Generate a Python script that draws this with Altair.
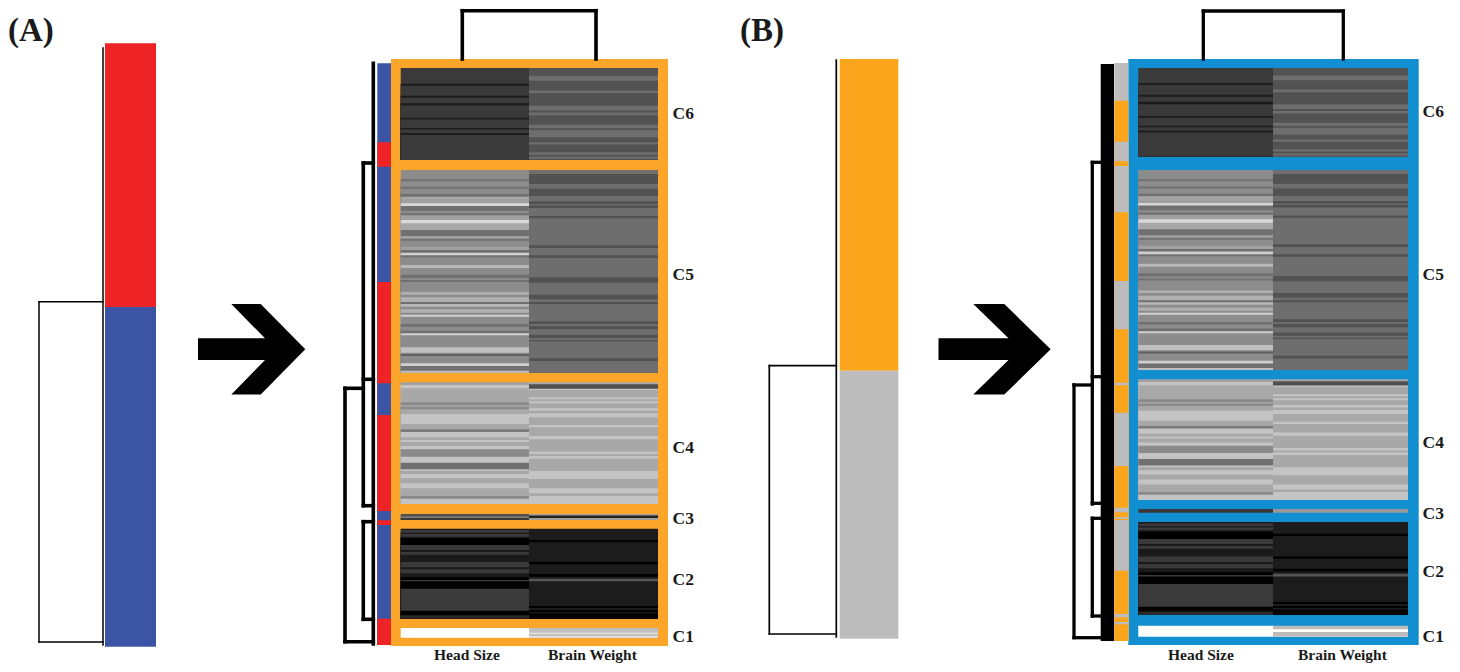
import altair as alt
import pandas as pd

# ---------- heat-map stripes: row counts and gray levels, cluster by cluster ----------
c6_head_rows = [47, 6, 30, 6, 16, 7, 37, 5, 25, 5, 10, 6, 75]
c6_head_gray = [0x3a, 0x1c, 0x3a, 0x1c, 0x3a, 0x1c, 0x3a, 0x1c, 0x3a, 0x1c, 0x3a, 0x1c, 0x3a]
c6_brain_rows = [23, 15, 29, 8, 38, 14, 6, 8, 29, 10, 5, 22, 15, 7, 23, 7, 6, 6, 4]
c6_brain_gray = [0x52, 0x6e, 0x52, 0x6e, 0x52, 0x6e, 0x52, 0x6e, 0x52, 0x6e, 0x52, 0x6e, 0x52, 0x6e, 0x52, 0x6e, 0x52, 0x6e, 0x52]

c5_head_rows = [28, 6, 16, 6, 16, 8, 6, 14, 8, 14, 8, 6, 14, 10, 20, 18, 8, 6, 18, 10, 8, 8, 6, 23, 9, 20, 10, 6, 6, 30,
                8, 8, 14, 6, 8, 8, 10, 6, 6, 22, 8, 12, 8, 6, 36, 16, 4, 6, 22, 8, 14, 6]
c5_head_gray = [0x8c, 0x70, 0x8c, 0x70, 0x8c, 0x70, 0xa8, 0xa0, 0xd8, 0x70, 0x8c, 0x70, 0xa0, 0xd8, 0xa8, 0x70, 0xa0, 0x70,
                0x8c, 0xa0, 0x70, 0xd0, 0x70, 0x8c, 0xb8, 0x8c, 0x70, 0x8c, 0x70, 0x8c, 0xb0, 0x8c, 0xb0, 0x70, 0xb8, 0x8c,
                0xb0, 0x8c, 0xd0, 0x8c, 0x70, 0x8c, 0x70, 0xd0, 0x8c, 0xc0, 0x8c, 0x60, 0x8c, 0xd0, 0x70, 0xc0]
c5_brain_rows = [12, 30, 14, 22, 16, 8, 4, 8, 24, 7, 81, 8, 22, 8, 58, 16, 36, 14, 8, 6, 52, 8, 6, 10, 16, 10, 6, 4, 51, 8, 35]
c5_brain_gray = [0x6e, 0x52, 0x6e, 0x52, 0x6e, 0x52, 0x6e, 0x52, 0x6e, 0x52, 0x6e, 0x52, 0x6e, 0x52, 0x6e, 0x52, 0x6e, 0x52,
                 0x6e, 0x52, 0x6e, 0x52, 0x6e, 0x52, 0x6e, 0x52, 0x6e, 0x52, 0x6e, 0x52, 0x6e]

c4_head_rows = [8, 10, 42, 9, 4, 8, 14, 30, 16, 8, 16, 8, 6, 12, 10, 22, 18, 20, 4, 10, 13, 15, 15, 23, 8, 16]
c4_head_gray = [0xa0, 0xc4, 0xa8, 0x8a, 0xa8, 0x8a, 0xa8, 0xc4, 0xa8, 0x7a, 0xc4, 0xa8, 0xc4, 0xa8, 0xc4, 0x8a, 0xc4, 0x70,
                0xc4, 0xa8, 0xc4, 0xa8, 0xc4, 0xa8, 0x8a, 0xc4]
c4_brain_rows = [6, 13, 4, 22, 6, 6, 6, 15, 7, 8, 12, 23, 7, 26, 10, 37, 7, 6, 8, 37, 24, 28, 15, 8, 24]
c4_brain_gray = [0xa8, 0x50, 0xc4, 0xa8, 0xc4, 0xa8, 0xc4, 0xa8, 0xc4, 0xa8, 0xc4, 0xa8, 0xc4, 0xa8, 0xc4, 0xa8, 0xc4, 0xa8,
                 0xc4, 0xa8, 0xc4, 0xa8, 0xc4, 0xa8, 0xc4]

c3a_head_rows = [7, 4, 6]
c3a_head_gray = [0x50, 0x80, 0x3a]
c3a_brain_rows = [4, 7, 6]
c3a_brain_gray = [0xa0, 0x20, 0xa0]
c3b_head_rows = [1]
c3b_head_gray = [0x38]
c3b_brain_rows = [1]
c3b_brain_gray = [0x98]

c2_head_rows = [4, 8, 4, 8, 4, 21, 15, 6, 8, 22, 16, 6, 12, 12, 8, 4, 22, 66, 14, 10]
c2_head_gray = [0x1a, 0x3a, 0x1a, 0x3a, 0x1a, 0x00, 0x3a, 0x1a, 0x3a, 0x1a, 0x3a, 0x1a, 0x3a, 0x1a, 0x00, 0x3a, 0x00, 0x3a, 0x00, 0x2a]
c2_brain_rows = [34, 7, 59, 7, 29, 8, 6, 8, 74, 6, 6, 6, 4, 16]
c2_brain_gray = [0x1c, 0x00, 0x1c, 0x00, 0x1c, 0x00, 0x1c, 0x55, 0x1c, 0x00, 0x1c, 0x00, 0x1c, 0x00]

c1_head_rows = [1]
c1_head_gray = [0xff]
c1a_brain_rows = [14, 4, 6, 5]
c1a_brain_gray = [0xc0, 0xe8, 0xc0, 0xe0]
c1b_brain_rows = [11, 8, 14]
c1b_brain_gray = [0xbb, 0xff, 0xbb]

# cluster extents on the picture's vertical axis
a_top = [68, 170, 382.3, 514, 528.7, 628]
a_bot = [160, 372.7, 504, 520, 618.7, 637.7]
b_top = [68, 170, 379.3, 509, 522, 625.7]
b_bot = [156.7, 370, 500, 512.7, 615, 636.7]
a_cols = [400.7, 529, 658]
b_cols = [1138.3, 1273, 1408]

# ---------- annotation bars ----------
a_side_edges = [63.3, 142.3, 166.7, 282, 383.3, 415, 511, 520.3, 525, 618.7, 645]
a_side_names = ["blue", "red", "blue", "red", "blue", "red", "blue", "red", "blue", "red"]
b_side_edges = [63, 100.7, 141.7, 161.3, 166, 212.3, 281, 329.3, 382.7, 385.3, 412.7, 466, 507.7, 512.3, 517, 518.7,
                520, 570.7, 614, 617.3, 622, 624.3, 641]
b_side_names = ["gray", "orange", "gray", "orange", "gray", "orange", "gray", "orange", "gray", "orange", "gray", "orange",
                "gray", "orange", "gray", "orange", "gray", "orange", "gray", "orange", "gray", "orange"]
palette = {"red": "#ee2326", "blue": "#3b54a4", "orange": "#fba51d", "gray": "#bcbcbc"}

# whole-cohort bars
big_x1 = [105, 105, 839.7, 839.7]
big_x2 = [156, 156, 898.3, 898.3]
big_y1 = [43.3, 307, 59, 370.7]
big_y2 = [307, 646.7, 370.7, 638.7]
big_names = ["red", "blue", "orange", "gray"]

# ---------- dendrogram segments ----------
seg_x1 = [103, 39, 39, 39,   836.3, 769.3, 769.3, 769.3,
          462.3, 462.3, 596,   373.3, 363.3, 363.3, 363.3, 363.3, 345, 345, 345, 363.3, 363.3, 363.3,
          1203.3, 1203.3, 1343.3,   1092.3, 1092.3, 1092.3, 1092.3, 1074, 1074, 1074, 1092.3, 1092.3, 1092.3]
seg_x2 = [103, 103, 39, 103,   836.3, 836.3, 769.3, 836.3,
          596, 462.3, 596,   373.3, 373.3, 363.3, 373.3, 373.3, 363.3, 345, 373.3, 363.3, 373.3, 373.3,
          1343.3, 1203.3, 1343.3,   1101, 1092.3, 1101, 1101, 1092.3, 1074, 1101, 1092.3, 1101, 1101]
seg_y1 = [48, 301.7, 301.7, 642,   60, 365.7, 365.7, 634,
          10.7, 10.7, 10.7,   63.3, 163, 163, 379.3, 505.7, 388.3, 388.3, 641.7, 521.7, 521.7, 619.3,
          11, 11, 11,   162.3, 162.3, 376.7, 503.3, 385, 385, 637.7, 518.3, 518.3, 616]
seg_y2 = [645, 301.7, 642, 642,   637, 365.7, 634, 634,
          10.7, 59, 59,   644, 163, 505.7, 379.3, 505.7, 388.3, 641.7, 641.7, 619.3, 521.7, 619.3,
          11, 59, 59,   162.3, 504, 376.7, 503.3, 385, 637.7, 637.7, 616, 518.3, 616]
seg_w = [1.5] * 4 + [1.7] * 4 + [3.6] * 14 + [3.3] * 13

# ---------- labels ----------
lab_text = ["(A)", "(B)",
            "C6", "C5", "C4", "C3", "C2", "C1", "C6", "C5", "C4", "C3", "C2", "C1",
            "Head Size", "Brain Weight", "Head Size", "Brain Weight"]
lab_x = [8, 740,
         672.5, 672.5, 672.5, 672.5, 672.5, 672.5, 1422.5, 1422.5, 1422.5, 1422.5, 1422.5, 1422.5,
         434, 548, 1168, 1298]
lab_y = [41, 41,
         119, 280, 453, 524, 585, 641.7, 117, 280, 448, 519, 577, 641.7,
         660, 660, 660, 660]
lab_size = [33, 33] + [17.5] * 12 + [15.5] * 4

# ---------- arrows ----------
arrow_a_px = [198, 265, 231.3, 260.7, 305.3, 260.7, 231.3, 265, 198]
arrow_b_px = [938.5, 1008.5, 973.3, 1004.3, 1050.7, 1004.3, 973.3, 1008.5, 938.5]
arrow_py = [338.3, 338.3, 304, 304, 349.3, 394.5, 394.5, 360, 360]
arrow_cx = [251.65, 994.6]
arrow_cy = [349.3, 349.3]
arrow_span = [107.3, 112.2]


def arrow_path(px, cx, span):
    r = span / 2
    pts = [f"{(x - cx) / r:.4f},{(y - 349.3) / r:.4f}" for x, y in zip(px, arrow_py)]
    return "M" + " L".join(pts) + " Z"


def gray_hex(g):
    return f"#{g:02x}{g:02x}{g:02x}"


rects = []


def add_rect(x1, x2, y1, y2, color):
    rects.append({"x1": x1, "x2": x2, "y1": y1, "y2": y2, "c": color})


def add_stripes(x1, x2, top, bot, rows, grays):
    # painted top to bottom, every stripe reaching the cluster's bottom so no seams show
    total = sum(rows)
    pos = 0
    for n, g in zip(rows, grays):
        add_rect(x1, x2, top + (bot - top) * pos / total, bot, gray_hex(g))
        pos += n


def add_side(x1, x2, edges, names):
    for i, name in enumerate(names):
        add_rect(x1, x2, edges[i], edges[-1], palette[name])


for a, b, c, d, n in zip(big_x1, big_x2, big_y1, big_y2, big_names):
    add_rect(a, b, c, d, palette[n])

add_rect(391, 668, 59, 646, "#fba62a")
add_rect(1128.3, 1418.7, 59, 645, "#128fd0")
add_rect(1100.7, 1114, 64, 641, "#000000")
add_side(377.3, 391, a_side_edges, a_side_names)
add_side(1114.3, 1128.3, b_side_edges, b_side_names)

head_a = [(c6_head_rows, c6_head_gray), (c5_head_rows, c5_head_gray), (c4_head_rows, c4_head_gray),
          (c3a_head_rows, c3a_head_gray), (c2_head_rows, c2_head_gray), (c1_head_rows, c1_head_gray)]
brain_a = [(c6_brain_rows, c6_brain_gray), (c5_brain_rows, c5_brain_gray), (c4_brain_rows, c4_brain_gray),
           (c3a_brain_rows, c3a_brain_gray), (c2_brain_rows, c2_brain_gray), (c1a_brain_rows, c1a_brain_gray)]
head_b = head_a[:3] + [(c3b_head_rows, c3b_head_gray)] + head_a[4:]
brain_b = brain_a[:3] + [(c3b_brain_rows, c3b_brain_gray)] + [brain_a[4], (c1b_brain_rows, c1b_brain_gray)]

for i in range(6):
    add_stripes(a_cols[0], a_cols[1], a_top[i], a_bot[i], *head_a[i])
    add_stripes(a_cols[1], a_cols[2], a_top[i], a_bot[i], *brain_a[i])
    add_stripes(b_cols[0], b_cols[1], b_top[i], b_bot[i], *head_b[i])
    add_stripes(b_cols[1], b_cols[2], b_top[i], b_bot[i], *brain_b[i])

rect_df = pd.DataFrame(rects)
rect_df["o"] = range(len(rect_df))
seg_df = pd.DataFrame({"x1": seg_x1, "x2": seg_x2, "y1": seg_y1, "y2": seg_y2, "w": seg_w})
lab_df = pd.DataFrame({"t": lab_text, "x": lab_x, "y": lab_y, "s": lab_size})

W, H = 1444, 656
xs = alt.Scale(domain=[8, 8 + W], range=[0, W])
ys = alt.Scale(domain=[8, 8 + H], range=[0, H])
X = alt.X("x1:Q", scale=xs, axis=None)
Y = alt.Y("y1:Q", scale=ys, axis=None)

rect_layer = alt.Chart(rect_df).mark_rect(strokeWidth=0).encode(
    x=X, x2="x2:Q", y=Y, y2="y2:Q",
    color=alt.Color("c:N", scale=None, legend=None),
    order=alt.Order("o:Q"),
)
seg_layer = alt.Chart(seg_df).mark_rule(color="#000000", strokeCap="square").encode(
    x=X, x2="x2:Q", y=Y, y2="y2:Q",
    strokeWidth=alt.StrokeWidth("w:Q", scale=None, legend=None),
)
text_layer = alt.Chart(lab_df).mark_text(
    font="Liberation Serif", fontWeight="bold", align="left", baseline="alphabetic", color="#1a1a1a"
).encode(
    x=alt.X("x:Q", scale=xs, axis=None),
    y=alt.Y("y:Q", scale=ys, axis=None),
    text="t:N",
    size=alt.Size("s:Q", scale=None, legend=None),
)


def arrow_layer(i, px):
    df = pd.DataFrame({"x": [arrow_cx[i]], "y": [arrow_cy[i]]})
    return alt.Chart(df).mark_point(
        shape=arrow_path(px, arrow_cx[i], arrow_span[i]),
        filled=True, color="#000000", opacity=1, strokeWidth=0, size=arrow_span[i] ** 2,
    ).encode(
        x=alt.X("x:Q", scale=xs, axis=None),
        y=alt.Y("y:Q", scale=ys, axis=None),
    )


chart = alt.layer(
    rect_layer, seg_layer, arrow_layer(0, arrow_a_px), arrow_layer(1, arrow_b_px), text_layer
).properties(
    width=W, height=H, padding=0,
    autosize=alt.AutoSizeParams(type="none"),
    background="#ffffff",
).configure_view(stroke=None)

chart.save("out.html", embed_options={"renderer": "svg", "actions": False})
